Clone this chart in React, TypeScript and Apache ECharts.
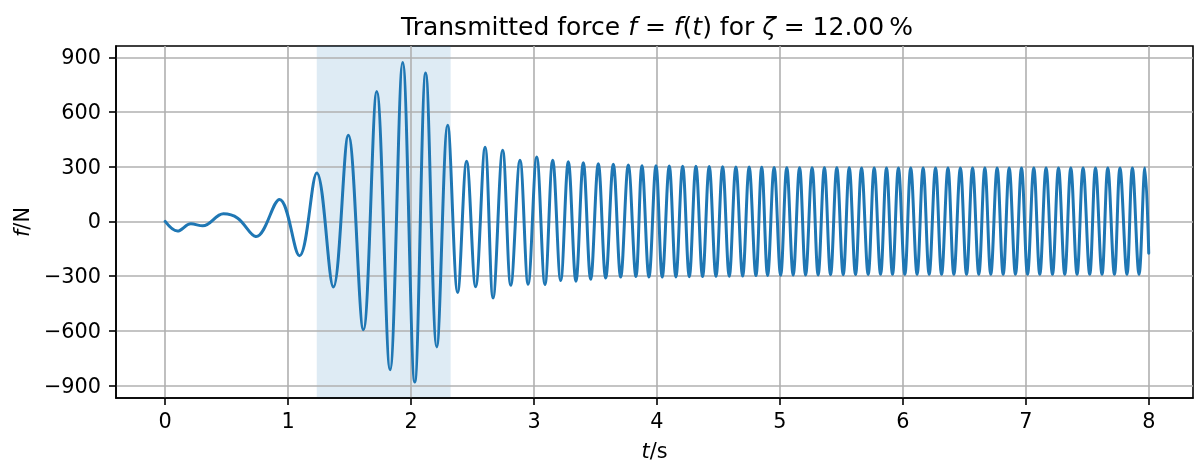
import React, { useEffect, useRef } from "react";
import * as echarts from "echarts";

// Extrema (and a few shape points) of the transmitted force signal, t in s, f in N
const T_EXT = [
  0.0, 0.1, 0.209, 0.306, 0.474, 0.59, 0.74, 0.93, 1.092, 1.233, 1.368, 1.49,
  1.612, 1.721, 1.829, 1.932, 2.03, 2.119, 2.209, 2.298, 2.379, 2.452, 2.525,
  2.602, 2.667, 2.745, 2.811, 2.886, 2.952, 3.022, 3.089, 3.152, 3.217, 3.279,
  3.341, 3.401, 3.461, 3.523, 3.583, 3.645, 3.705, 3.767, 3.829, 3.878, 3.935,
  3.992, 4.043, 4.1, 4.154, 4.209, 4.263, 4.317, 4.371, 4.425, 4.48, 4.534,
  4.588, 4.642, 4.697, 4.75, 4.805, 4.852, 4.9, 4.953, 5.006, 5.056, 5.108,
  5.16, 5.209, 5.262, 5.311, 5.362, 5.412, 5.463, 5.515, 5.564, 5.615, 5.664,
  5.718, 5.767, 5.819, 5.867, 5.916, 5.964, 6.016, 6.064, 6.116, 6.165, 6.214,
  6.266, 6.315, 6.367, 6.415, 6.468, 6.518, 6.567, 6.618, 6.667, 6.715, 6.767,
  6.816, 6.865, 6.916, 6.965, 7.014, 7.065, 7.114, 7.165, 7.217, 7.266, 7.317,
  7.366, 7.417, 7.466, 7.52, 7.567, 7.62, 7.667, 7.721, 7.766, 7.823, 7.867,
  7.921, 7.969, 8.0,
];
const F_EXT = [
  0, -53, -13, -24, 42, 18, -83, 121, -188, 266, -360, 473, -594, 713, -813,
  872, -880, 814, -688, 527, -389, 330, -358, 407, -420, 390, -350, 336, -344,
  353, -346, 336, -324, 327, -328, 322, -317, 316, -310, 313, -305, 309, -302,
  306, -305, 305, -305, 304, -304, 303, -303, 302, -302, 301, -301, 300, -300,
  299, -299, 298, -297, 297, -296, 296, -295, 295, -294, 295, -293, 294, -293,
  294, -292, 294, -292, 294, -291, 293, -291, 293, -290, 293, -290, 293, -290,
  293, -290, 293, -290, 293, -290, 293, -290, 293, -290, 293, -290, 293, -290,
  293, -290, 293, -290, 293, -290, 293, -290, 293, -290, 293, -290, 293, -290,
  293, -290, 293, -290, 293, -290, 293, -290, 293, -290, 293, -174,
];

// Highlighted time window
const SHADE_T = [1.233, 2.322];

const X_TICKS = [0, 1, 2, 3, 4, 5, 6, 7, 8];
const Y_TICKS = [-900, -600, -300, 0, 300, 600, 900];

const FONT = "DejaVu Sans";

export default function App() {
  const ref = useRef<HTMLDivElement>(null);

  useEffect(() => {
    if (!ref.current) return;
    const chart = echarts.init(ref.current, null, { renderer: "svg" });

    const rich = (size: number) => ({
      n: { fontFamily: FONT, fontSize: size, color: "#000" },
      i: { fontFamily: FONT, fontSize: size, color: "#000", fontStyle: "italic" },
    });

    const minus = (v: number) => String(v).replace("-", "\u2212");

    const axisLine = {
      show: true,
      onZero: false,
      lineStyle: { color: "#000", width: 1.6 },
    };

    const n = Math.min(T_EXT.length, F_EXT.length);
    const signal = T_EXT.slice(0, n).map((t, i) => [t, F_EXT[i]]);

    chart.setOption({
      animation: false,
      grid: {
        left: 116,
        right: 2,
        top: 46,
        bottom: 64,
        outerBoundsMode: "none",
        containLabel: false,
        show: true,
        borderColor: "#000",
        borderWidth: 1.6,
        backgroundColor: "transparent",
      },
      graphic: [
        {
          type: "text",
          x: 657,
          y: 26,
          style: {
            text:
              "{n|Transmitted force }{i|f}{n| = }{i|f}{n|(}{i|t}{n|) for }{i|ζ}{n| = 12.00\u2009%}",
            rich: rich(25),
            align: "center",
            verticalAlign: "middle",
          },
        },
      ],
      xAxis: {
        type: "value",
        min: -0.4,
        max: 8.36,
        z: 3,
        name: "{i|t}{n|/s}",
        nameLocation: "middle",
        nameGap: 42,
        nameTextStyle: { rich: rich(20.8) },
        axisLine,
        axisTick: {
          show: true,
          customValues: X_TICKS,
          length: 7,
          lineStyle: { color: "#000", width: 1.6 },
        },
        axisLabel: {
          customValues: X_TICKS,
          margin: 12,
          fontFamily: FONT,
          fontSize: 20.8,
          color: "#000",
          formatter: (v: number) => minus(v),
        },
        splitLine: { show: true, lineStyle: { color: "#b0b0b0", width: 1.6 } },
      },
      yAxis: {
        type: "value",
        min: -968,
        max: 962,
        z: 3,
        name: "{i|f}{n|/N}",
        nameLocation: "middle",
        nameGap: 80,
        nameTextStyle: { rich: rich(20.8) },
        axisLine,
        axisTick: {
          show: true,
          customValues: Y_TICKS,
          length: 7,
          lineStyle: { color: "#000", width: 1.6 },
        },
        axisLabel: {
          customValues: Y_TICKS,
          margin: 15,
          fontFamily: FONT,
          fontSize: 20.8,
          color: "#000",
          formatter: (v: number) => minus(v),
        },
        splitLine: { show: true, lineStyle: { color: "#b0b0b0", width: 1.6 } },
      },
      series: [
        {
          type: "line",
          data: [],
          z: 1,
          silent: true,
          markArea: {
            silent: true,
            itemStyle: { color: "rgba(31,119,180,0.15)", borderWidth: 0 },
            data: [[{ xAxis: SHADE_T[0] }, { xAxis: SHADE_T[1] }]],
          },
        },
        {
          type: "line",
          z: 5,
          data: signal,
          smooth: 0.37,
          showSymbol: false,
          silent: true,
          lineStyle: { color: "#1f77b4", width: 3, cap: "round", join: "round" },
        },
      ],
    });

    return () => chart.dispose();
  }, []);

  return (
    <div
      ref={ref}
      style={{ position: "fixed", left: 0, top: 0, width: 1195, height: 462 }}
    />
  );
}
